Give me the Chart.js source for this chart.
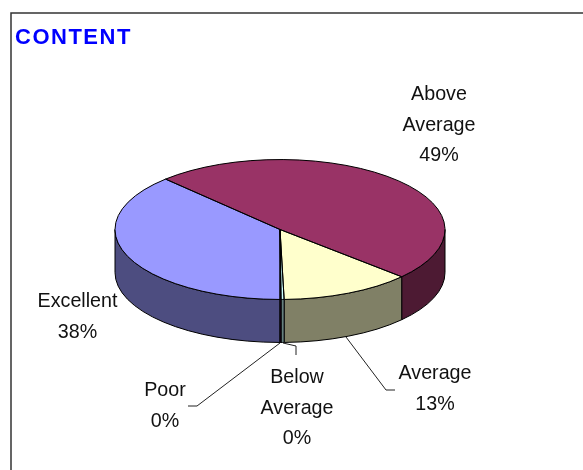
<!DOCTYPE html>
<html>
<head>
<meta charset="utf-8">
<title>CONTENT</title>
<script src="https://cdn.jsdelivr.net/npm/chart.js@4"></script>
<style>
  html, body { margin: 0; padding: 0; background: #fff; overflow: hidden; }
  canvas { display: block; }
</style>
</head>
<body>
<canvas id="pie" width="583" height="470"></canvas>
<script>
const titleText = "CONTENT";
const categories = ["Excellent", "Above Average", "Average", "Below Average", "Poor"];
const values = [37.8, 49, 12.8, 0.3, 0.1];
const topColors = ["#9999FF", "#993366", "#FFFFCC", "#CCFFFF", "#660066"];
const wallColors = ["#4D4D80", "#4D1A33", "#808066", "#668080", "#330033"];

// how each label wraps, and where it sits on the page
const labelLines = [["Excellent"], ["Above", "Average"], ["Average"], ["Below", "Average"], ["Poor"]];
const labelSpots = [[77.5, 302], [439, 95], [435, 374], [297, 378], [165, 391]];
const leaders = [
  null,
  null,
  [[346, 337], [386, 390], [395, 390]],
  [[283, 343], [296, 346], [296, 355]],
  [[280, 343], [197, 406], [188, 406]]
];

const squash = 0.424; // ellipse height / width
const depth = 43;     // thickness of the pie

// paths for one slice of the top face and its front wall
function wallPath(ctx, x, y, r, s, e) {
  ctx.beginPath();
  ctx.ellipse(x, y, r, r * squash, 0, s, e);
  ctx.ellipse(x, y + depth, r, r * squash, 0, e, s, true);
  ctx.closePath();
}

function frontParts(arc) {
  const parts = [];
  for (let k = 0; k < 2; k++) {
    const s = Math.max(arc.startAngle, 2 * Math.PI * k);
    const e = Math.min(arc.endAngle, 2 * Math.PI * k + Math.PI);
    if (e > s) parts.push([s, e]);
  }
  return parts;
}

const pie3d = {
  id: "pie3d",
  beforeDraw(chart) {
    const ctx = chart.ctx;
    ctx.save();
    // frame, only the top and left edges are on the page
    ctx.strokeStyle = "#333";
    ctx.lineWidth = 1.5;
    ctx.beginPath();
    ctx.moveTo(11, 470);
    ctx.lineTo(11, 13);
    ctx.lineTo(583, 13);
    ctx.stroke();
    // title
    ctx.fillStyle = "#0000FF";
    ctx.font = "bold 22px 'Liberation Sans'";
    ctx.letterSpacing = "1.5px";
    ctx.textAlign = "left";
    ctx.textBaseline = "alphabetic";
    ctx.fillText(titleText, 15, 44);
    ctx.restore();
  },
  beforeDatasetDraw(chart) {
    const ctx = chart.ctx;
    const arcs = chart.getDatasetMeta(0).data;
    ctx.save();
    ctx.lineWidth = 1;
    ctx.strokeStyle = "#000";
    arcs.forEach((arc, i) => {
      frontParts(arc).forEach(([s, e]) => {
        wallPath(ctx, arc.x, arc.y, arc.outerRadius, s, e);
        ctx.fillStyle = wallColors[i];
        ctx.fill();
        ctx.stroke();
      });
    });
    ctx.restore();
    // squash the library's round pie into an ellipse
    const c = arcs[0];
    ctx.save();
    ctx.translate(c.x, c.y);
    ctx.scale(1, squash);
    ctx.translate(-c.x, -c.y);
  },
  afterDatasetDraw(chart) {
    const ctx = chart.ctx;
    ctx.restore();
    const arcs = chart.getDatasetMeta(0).data;
    const total = values.reduce((a, b) => a + b, 0);
    ctx.save();
    ctx.lineWidth = 1;
    ctx.strokeStyle = "#000";
    arcs.forEach(arc => {
      ctx.beginPath();
      ctx.moveTo(arc.x, arc.y);
      ctx.ellipse(arc.x, arc.y, arc.outerRadius, arc.outerRadius * squash, 0, arc.startAngle, arc.endAngle);
      ctx.closePath();
      ctx.stroke();
    });
    // leader lines
    ctx.strokeStyle = "#222";
    leaders.forEach(pts => {
      if (!pts) return;
      ctx.beginPath();
      pts.forEach((p, j) => j ? ctx.lineTo(p[0], p[1]) : ctx.moveTo(p[0], p[1]));
      ctx.stroke();
    });
    // labels
    ctx.fillStyle = "#111";
    ctx.font = "19.7px 'Liberation Sans'";
    ctx.textAlign = "center";
    ctx.textBaseline = "middle";
    categories.forEach((name, i) => {
      const lines = labelLines[i].concat(Math.round(values[i] / total * 100) + "%");
      lines.forEach((txt, j) => ctx.fillText(txt, labelSpots[i][0], labelSpots[i][1] + j * 30.5));
    });
    ctx.restore();
  }
};

new Chart(document.getElementById("pie"), {
  type: "pie",
  data: {
    labels: categories,
    datasets: [{
      data: values,
      backgroundColor: topColors,
      borderWidth: 0,
      radius: 165,
      rotation: 180
    }]
  },
  options: {
    responsive: false,
    animation: false,
    layout: { padding: { right: 23, bottom: 11 } },
    plugins: { legend: { display: false }, tooltip: { enabled: false } }
  },
  plugins: [pie3d]
});
</script>
</body>
</html>
